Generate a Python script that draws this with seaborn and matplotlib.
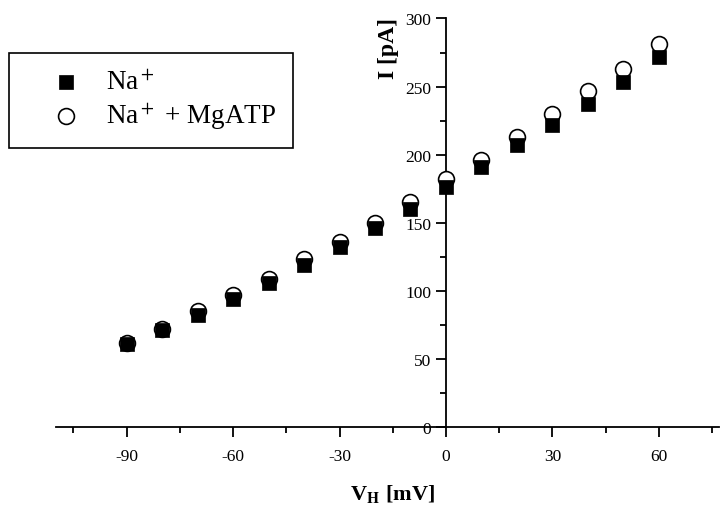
import matplotlib
matplotlib.use("Agg")
import matplotlib.pyplot as plt
import seaborn as sns
import pandas as pd

# Data
voltage = [-90, -80, -70, -60, -50, -40, -30, -20, -10, 0, 10, 20, 30, 40, 50, 60]
current_na = [61, 71, 82, 94, 106, 119, 132, 146, 160, 176, 191, 207, 222, 237, 253, 272]
current_na_mgatp = [62, 72, 85, 97, 109, 123, 136, 150, 165, 182, 196, 213, 230, 247, 263, 281]

x_ticks = [-90, -60, -30, 0, 30, 60]
y_ticks = [0, 50, 100, 150, 200, 250, 300]

sns.set_style("ticks")
plt.rcParams["font.family"] = ["Liberation Serif", "DejaVu Serif"]
plt.rcParams["mathtext.fontset"] = "stix"
plt.rcParams["axes.unicode_minus"] = False
plt.rcParams["text.color"] = "black"
plt.rcParams["axes.labelcolor"] = "black"

df = pd.DataFrame({"V": voltage, "na": current_na, "mg": current_na_mgatp})

fig = plt.figure(figsize=(7.21, 5.06), dpi=100)
ax = fig.add_axes([0.0773, 0.1542, 0.92, 0.8073])

# circles first so the squares sit on top of them
sns.scatterplot(data=df, x="V", y="mg", ax=ax, marker="o", s=130,
                facecolor="white", edgecolor="black", linewidth=1.2,
                label=r"Na$^+$ + MgATP", zorder=3)
sns.scatterplot(data=df, x="V", y="na", ax=ax, marker="s", s=115,
                color="black", edgecolor="black", linewidth=0.5,
                label=r"Na$^+$", zorder=4)

ax.set_xlim(-110, 77)
ax.set_ylim(0, 300)
ax.spines["left"].set_position(("data", 0))
ax.spines["bottom"].set_position(("data", 0))
ax.spines["right"].set_visible(False)
ax.spines["top"].set_visible(False)
for sp in ["left", "bottom"]:
    ax.spines[sp].set_linewidth(1.3)
    ax.spines[sp].set_color("black")

ax.set_xticks(x_ticks)
ax.set_xticks([-105, -75, -45, -15, 15, 45, 75], minor=True)
ax.set_yticks(y_ticks)
ax.set_yticks([25, 75, 125, 175, 225, 275], minor=True)
ax.tick_params(axis="both", which="major", direction="out", length=7, width=1.3,
               labelsize=12.5, colors="black")
ax.tick_params(axis="both", which="minor", direction="out", length=4, width=1.3,
               colors="black")
ax.tick_params(axis="x", pad=8)

ax.set_xlabel(r"V$_\mathbf{H}$ [mV]", fontsize=16, fontweight="bold")
ax.set_ylabel("I [pA]", fontsize=17, fontweight="bold")
ax.xaxis.set_label_coords(0.507, -0.135)
ax.yaxis.set_label_coords(0.517, 0.93)

handles, labels = ax.get_legend_handles_labels()
leg = ax.legend(handles[::-1], labels[::-1], loc="upper left",
                bbox_to_anchor=(9 / 721, 1 - 54 / 506), bbox_transform=fig.transFigure,
                borderaxespad=0, frameon=True, fancybox=False, fontsize=19.5,
                edgecolor="black", handlelength=3.0, handletextpad=0.0,
                borderpad=0.6, labelspacing=0.2)
leg.get_frame().set_linewidth(1.2)
leg.get_frame().set_alpha(1)

fig.savefig("out.png", dpi=100)
